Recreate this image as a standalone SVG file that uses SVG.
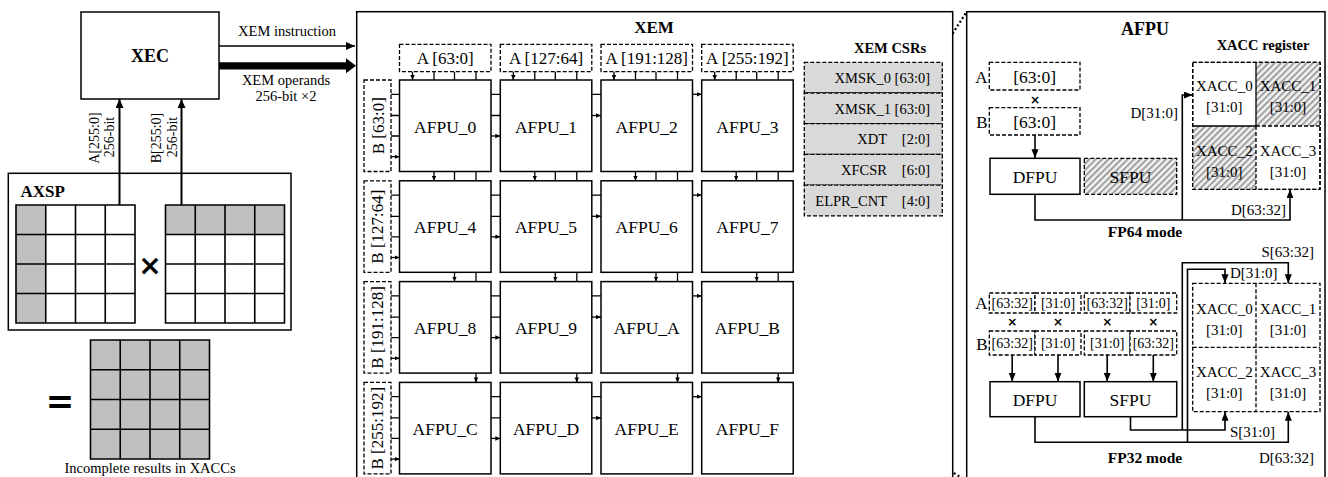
<svg xmlns="http://www.w3.org/2000/svg" width="1328" height="477" viewBox="0 0 1328 477">
<defs>
<style>
.t{font-family:"Liberation Serif","Times New Roman",serif;fill:#000}
.bd{font-weight:bold}
.m{text-anchor:middle}
.e{text-anchor:end}
.bx{fill:#fff;stroke:#000;stroke-width:1.5}
.ds{fill:#fff;stroke:#000;stroke-width:1.3;stroke-dasharray:4 2}
.dn{fill:none;stroke:#000;stroke-width:1.3;stroke-dasharray:4 2}
.ln{fill:none;stroke:#000;stroke-width:1.3}
.w{fill:none;stroke:#000;stroke-width:1.6}
.cell{fill:none;stroke:#000;stroke-width:1.6}
.gr{fill:#c0c0c0}
.csr{fill:#d9d9d9;stroke:#000;stroke-width:1.3;stroke-dasharray:4 2}
.dot{fill:none;stroke:#000;stroke-width:2.2;stroke-dasharray:2 2.4}
.hx{fill:url(#hatch);stroke:none}
.x{font-family:"DejaVu Sans",sans-serif;font-weight:bold;text-anchor:middle}
</style>
<pattern id="hatch" width="4.5" height="4.5" patternUnits="userSpaceOnUse" patternTransform="rotate(45)">
<rect width="4.5" height="4.5" fill="#f2f2f2"/>
<line x1="1" y1="0" x2="1" y2="4.5" stroke="#a0a0a0" stroke-width="2"/>
</pattern>
<marker id="as" markerWidth="6" markerHeight="5" refX="5" refY="2.25" orient="auto" markerUnits="userSpaceOnUse"><path d="M0,0 L5,2.25 L0,4.5 Z" fill="#000"/></marker>
<marker id="am" markerWidth="10" markerHeight="8" refX="9" refY="3.5" orient="auto" markerUnits="userSpaceOnUse"><path d="M0,0 L9,3.5 L0,7 Z" fill="#000"/></marker>
<marker id="al" markerWidth="10" markerHeight="9" refX="9" refY="4" orient="auto" markerUnits="userSpaceOnUse"><path d="M0,0 L9,4 L0,8 Z" fill="#000"/></marker>
</defs>
<rect width="1328" height="477" fill="#fff"/>

<!-- dotted zoom lines (behind) -->
<g id="zoom-lines">
<line class="dot" x1="793.2" y1="281.6" x2="966.7" y2="11.7"/>
<line class="dot" x1="793.2" y1="373.1" x2="966.7" y2="481"/>
</g>

<!-- XEC -->
<g id="xec">
<rect class="bx" x="81" y="12" width="138" height="87"/>
<text class="t bd m" x="150" y="62" font-size="18">XEC</text>
</g>

<!-- AXSP -->
<g id="axsp">
<rect class="bx" x="8.3" y="173.3" width="282.7" height="156.7"/>
<text class="t bd" x="20.5" y="196.5" font-size="17">AXSP</text>
<rect class="gr" x="16" y="205" width="29.75" height="118"/>
<path class="cell" d="M16,205H135V323H16Z M45.75,205V323 M75.5,205V323 M105.25,205V323 M16,234.5H135 M16,264H135 M16,293.5H135"/>
<rect class="gr" x="165.5" y="205" width="119" height="29.5"/>
<path class="cell" d="M165.5,205H284.5V323H165.5Z M195.25,205V323 M225,205V323 M254.75,205V323 M165.5,234.5H284.5 M165.5,264H284.5 M165.5,293.5H284.5"/>
<text class="x" x="150" y="275" font-size="28">×</text>
</g>

<g id="result">
<rect class="gr" x="90.5" y="340" width="119" height="119"/>
<path class="cell" d="M90.5,340H209.5V459H90.5Z M120.25,340V459 M150,340V459 M179.75,340V459 M90.5,369.75H209.5 M90.5,399.5H209.5 M90.5,429.25H209.5"/>
<text class="x" x="60" y="413" font-size="34">=</text>
<text class="t m" x="150" y="473" font-size="14.5">Incomplete results in XACCs</text>
</g>

<!-- XEM -->
<g id="xem">
<rect class="bx" x="356.7" y="11.7" width="596" height="480"/>
<text class="t bd m" x="654" y="33" font-size="17">XEM</text>
</g>

<g id="a-inputs">
<rect class="ds" x="399.5" y="44.3" width="91.5" height="27.4"/>
<text class="t m" x="445.2" y="64" font-size="17">A [63:0]</text>
<rect class="ds" x="500.3" y="44.3" width="91.5" height="27.4"/>
<text class="t m" x="546" y="64" font-size="17">A [127:64]</text>
<rect class="ds" x="601" y="44.3" width="91.5" height="27.4"/>
<text class="t m" x="646.7" y="64" font-size="17">A [191:128]</text>
<rect class="ds" x="701.7" y="44.3" width="91.5" height="27.4"/>
<text class="t m" x="747.4" y="64" font-size="17">A [255:192]</text>
</g>

<g id="b-inputs">
<rect class="ds" x="364" y="80" width="27" height="91.5"/>
<text class="t m" x="383.5" y="125.75" font-size="17" transform="rotate(-90 383.5 125.75)">B [63:0]</text>
<rect class="ds" x="364" y="180.8" width="27" height="91.5"/>
<text class="t m" x="383.5" y="226.55" font-size="17" transform="rotate(-90 383.5 226.55)">B [127:64]</text>
<rect class="ds" x="364" y="281.6" width="27" height="91.5"/>
<text class="t m" x="383.5" y="327.35" font-size="17" transform="rotate(-90 383.5 327.35)">B [191:128]</text>
<rect class="ds" x="364" y="382.4" width="27" height="91.5"/>
<text class="t m" x="383.5" y="428.15" font-size="17" transform="rotate(-90 383.5 428.15)">B [255:192]</text>
</g>

<g id="afpu_0"><rect class="bx" x="399.5" y="80" width="91.5" height="91.5"/><text class="t m" x="445.2" y="132.5" font-size="17.5">AFPU_0</text></g>
<g id="afpu_1"><rect class="bx" x="500.3" y="80" width="91.5" height="91.5"/><text class="t m" x="546" y="132.5" font-size="17.5">AFPU_1</text></g>
<g id="afpu_2"><rect class="bx" x="601" y="80" width="91.5" height="91.5"/><text class="t m" x="646.7" y="132.5" font-size="17.5">AFPU_2</text></g>
<g id="afpu_3"><rect class="bx" x="701.7" y="80" width="91.5" height="91.5"/><text class="t m" x="747.4" y="132.5" font-size="17.5">AFPU_3</text></g>
<g id="afpu_4"><rect class="bx" x="399.5" y="180.8" width="91.5" height="91.5"/><text class="t m" x="445.2" y="233.3" font-size="17.5">AFPU_4</text></g>
<g id="afpu_5"><rect class="bx" x="500.3" y="180.8" width="91.5" height="91.5"/><text class="t m" x="546" y="233.3" font-size="17.5">AFPU_5</text></g>
<g id="afpu_6"><rect class="bx" x="601" y="180.8" width="91.5" height="91.5"/><text class="t m" x="646.7" y="233.3" font-size="17.5">AFPU_6</text></g>
<g id="afpu_7"><rect class="bx" x="701.7" y="180.8" width="91.5" height="91.5"/><text class="t m" x="747.4" y="233.3" font-size="17.5">AFPU_7</text></g>
<g id="afpu_8"><rect class="bx" x="399.5" y="281.6" width="91.5" height="91.5"/><text class="t m" x="445.2" y="334.1" font-size="17.5">AFPU_8</text></g>
<g id="afpu_9"><rect class="bx" x="500.3" y="281.6" width="91.5" height="91.5"/><text class="t m" x="546" y="334.1" font-size="17.5">AFPU_9</text></g>
<g id="afpu_a"><rect class="bx" x="601" y="281.6" width="91.5" height="91.5"/><text class="t m" x="646.7" y="334.1" font-size="17.5">AFPU_A</text></g>
<g id="afpu_b"><rect class="bx" x="701.7" y="281.6" width="91.5" height="91.5"/><text class="t m" x="747.4" y="334.1" font-size="17.5">AFPU_B</text></g>
<g id="afpu_c"><rect class="bx" x="399.5" y="382.4" width="91.5" height="91.5"/><text class="t m" x="445.2" y="434.9" font-size="17.5">AFPU_C</text></g>
<g id="afpu_d"><rect class="bx" x="500.3" y="382.4" width="91.5" height="91.5"/><text class="t m" x="546" y="434.9" font-size="17.5">AFPU_D</text></g>
<g id="afpu_e"><rect class="bx" x="601" y="382.4" width="91.5" height="91.5"/><text class="t m" x="646.7" y="434.9" font-size="17.5">AFPU_E</text></g>
<g id="afpu_f"><rect class="bx" x="701.7" y="382.4" width="91.5" height="91.5"/><text class="t m" x="747.4" y="434.9" font-size="17.5">AFPU_F</text></g>

<!-- CSRs -->
<g id="xem-csrs">
<text class="t bd m" x="890" y="53" font-size="14.5">XEM CSRs</text>
<rect class="csr" x="804.3" y="62.3" width="138" height="30.7"/>
<rect class="csr" x="804.3" y="93" width="138" height="30.7"/>
<rect class="csr" x="804.3" y="123.7" width="138" height="30.7"/>
<rect class="csr" x="804.3" y="154.4" width="138" height="30.7"/>
<rect class="csr" x="804.3" y="185.1" width="138" height="30.7"/>
<text class="t e" x="930" y="83" font-size="14.5">XMSK_0 [63:0]</text>
<text class="t e" x="930" y="113.7" font-size="14.5">XMSK_1 [63:0]</text>
<text class="t" font-size="14.5" y="144.4"><tspan class="e" x="887">XDT</tspan><tspan class="e" x="930">[2:0]</tspan></text>
<text class="t" font-size="14.5" y="175.1"><tspan class="e" x="887">XFCSR</tspan><tspan class="e" x="930">[6:0]</tspan></text>
<text class="t" font-size="14.5" y="205.8"><tspan class="e" x="887">ELPR_CNT</tspan><tspan class="e" x="930">[4:0]</tspan></text>
</g>

<!-- AFPU detail panel -->
<g id="afpu-panel">
<rect class="bx" x="966.7" y="11.7" width="358.3" height="480"/>
<text class="t bd m" x="1145" y="35" font-size="18">AFPU</text>
<text class="t bd m" x="1263" y="50" font-size="14.5">XACC register</text>
<text class="t bd m" x="1145" y="237" font-size="15.5">FP64 mode</text>
<text class="t bd m" x="1145" y="463" font-size="15.5">FP32 mode</text>
</g>

<g id="fp64-ab">
<text class="t e" x="987.5" y="83" font-size="17">A</text>
<rect class="ds" x="989.3" y="62.3" width="90.7" height="27.7"/>
<text class="t m" x="1034.7" y="83" font-size="17.5">[63:0]</text>
<text class="x" x="1035" y="104" font-size="12">×</text>
<text class="t e" x="987.5" y="128" font-size="17">B</text>
<rect class="ds" x="989.3" y="107.7" width="90.7" height="27.3"/>
<text class="t m" x="1034.7" y="128" font-size="17.5">[63:0]</text>
</g>
<g id="fp64-dfpu"><rect class="bx" x="990" y="158.3" width="90" height="36"/><text class="t m" x="1035" y="182.5" font-size="17.5">DFPU</text></g>
<g id="fp64-sfpu"><rect class="hx" x="1084.3" y="158.3" width="92.4" height="36"/><rect class="dn" x="1084.3" y="158.3" width="92.4" height="36"/><text class="t m" x="1130.5" y="182.5" font-size="17.5">SFPU</text></g>
<g id="fp64-xacc">
<rect class="ds" x="1192.7" y="62.3" width="127.3" height="127"/>
<rect class="hx" x="1256" y="62.3" width="64" height="63.7"/>
<rect class="hx" x="1192.7" y="126" width="63.3" height="63.3"/>
<path class="dn" d="M1192.7,62.3H1320V189.3H1192.7Z M1256,126V189.3 M1256,126H1320"/>
<path class="ln" d="M1256,62.3V126H1192.7"/>
<text class="t m" x="1224.3" y="91" font-size="15">XACC_0</text><text class="t m" x="1224.3" y="112" font-size="15">[31:0]</text>
<text class="t m" x="1288" y="91" font-size="15">XACC_1</text><text class="t m" x="1288" y="112" font-size="15">[31:0]</text>
<text class="t m" x="1224.3" y="156" font-size="15">XACC_2</text><text class="t m" x="1224.3" y="177" font-size="15">[31:0]</text>
<text class="t m" x="1288" y="156" font-size="15">XACC_3</text><text class="t m" x="1288" y="177" font-size="15">[31:0]</text>
</g>

<g id="fp32-ab">
<text class="t e" x="987.5" y="309" font-size="17">A</text>
<rect class="ds" x="989.3" y="293" width="45.7" height="20"/>
<rect class="ds" x="1035" y="293" width="46" height="20"/>
<rect class="ds" x="1084.3" y="293" width="45.7" height="20"/>
<rect class="ds" x="1130" y="293" width="46.7" height="20"/>
<text class="t m" x="1012.2" y="308" font-size="14">[63:32]</text>
<text class="t m" x="1058" y="308" font-size="14">[31:0]</text>
<text class="t m" x="1107.2" y="308" font-size="14">[63:32]</text>
<text class="t m" x="1153.3" y="308" font-size="14">[31:0]</text>
<text class="x" x="1012.2" y="326" font-size="12">×</text>
<text class="x" x="1058" y="326" font-size="12">×</text>
<text class="x" x="1107.2" y="326" font-size="12">×</text>
<text class="x" x="1153.3" y="326" font-size="12">×</text>
<text class="t e" x="987.5" y="350" font-size="17">B</text>
<rect class="ds" x="989.3" y="331" width="45.7" height="24"/>
<rect class="ds" x="1035" y="331" width="46" height="24"/>
<rect class="ds" x="1084.3" y="331" width="45.7" height="24"/>
<rect class="ds" x="1130" y="331" width="46.7" height="24"/>
<text class="t m" x="1012.2" y="348" font-size="14">[63:32]</text>
<text class="t m" x="1058" y="348" font-size="14">[31:0]</text>
<text class="t m" x="1107.2" y="348" font-size="14">[31:0]</text>
<text class="t m" x="1153.3" y="348" font-size="14">[63:32]</text>
</g>
<g id="fp32-dfpu"><rect class="bx" x="990" y="381.7" width="90" height="35"/><text class="t m" x="1035" y="405.5" font-size="17.5">DFPU</text></g>
<g id="fp32-sfpu"><rect class="bx" x="1084.3" y="381.7" width="92.4" height="35"/><text class="t m" x="1130.5" y="405.5" font-size="17.5">SFPU</text></g>
<g id="fp32-xacc">
<path class="ds" d="M1192.7,283.3H1320V411.7H1192.7Z"/>
<path class="dn" d="M1256,283.3V411.7 M1192.7,347.3H1320"/>
<text class="t m" x="1224.3" y="314" font-size="15">XACC_0</text><text class="t m" x="1224.3" y="335" font-size="15">[31:0]</text>
<text class="t m" x="1288" y="314" font-size="15">XACC_1</text><text class="t m" x="1288" y="335" font-size="15">[31:0]</text>
<text class="t m" x="1224.3" y="377" font-size="15">XACC_2</text><text class="t m" x="1224.3" y="398" font-size="15">[31:0]</text>
<text class="t m" x="1288" y="377" font-size="15">XACC_3</text><text class="t m" x="1288" y="398" font-size="15">[31:0]</text>
</g>

<!-- connectors -->
<g id="connectors">
<line x1="219" y1="46" x2="355" y2="46" stroke="#000" stroke-width="1.5" marker-end="url(#al)"/>
<path d="M219,62.2H346V58.3L356,65.8L346,73.3V69.4H219Z" fill="#000"/>
<line x1="119.5" y1="205" x2="119.5" y2="99" stroke="#000" stroke-width="2" marker-end="url(#al)"/>
<line x1="181.5" y1="205" x2="181.5" y2="99" stroke="#000" stroke-width="2" marker-end="url(#al)"/>
<text class="t m" x="287" y="36" font-size="14.5">XEM instruction</text>
<text class="t m" x="286" y="85" font-size="14.5">XEM operands</text>
<text class="t m" x="286" y="101" font-size="14.5">256-bit ×2</text>
<text class="t m" x="99" y="138" font-size="14" transform="rotate(-90 99 138)">A[255:0]</text>
<text class="t m" x="114" y="137" font-size="14" transform="rotate(-90 114 137)">256-bit</text>
<text class="t m" x="160.5" y="138" font-size="14" transform="rotate(-90 160.5 138)">B[255:0]</text>
<text class="t m" x="177" y="137" font-size="14" transform="rotate(-90 177 137)">256-bit</text>

<!-- grid plain vertical -->
<path class="ln" d="M434,71.7V80 M454.5,71.7V80 M476,71.7V80 M534.8,71.7V80 M555.3,71.7V80 M576.8,71.7V80 M635.5,71.7V80 M656,71.7V80 M677.5,71.7V80 M736.2,71.7V80 M756.7,71.7V80 M778.2,71.7V80
M454.5,171.5V180.8 M476,171.5V180.8 M555.3,171.5V180.8 M576.8,171.5V180.8 M656,171.5V180.8 M677.5,171.5V180.8 M756.7,171.5V180.8 M778.2,171.5V180.8
M476,272.3V281.6 M576.8,272.3V281.6 M677.5,272.3V281.6 M778.2,272.3V281.6"/>
<!-- grid plain horizontal -->
<path class="ln" d="M391,94.3H399.5 M391,115.5H399.5 M391,136H399.5 M391,195.1H399.5 M391,216.3H399.5 M391,236.8H399.5 M391,295.9H399.5 M391,317.1H399.5 M391,337.6H399.5 M391,396.7H399.5 M391,417.9H399.5 M391,438.4H399.5
M491,94.3H500.3 M491,115.5H500.3 M491,195.1H500.3 M491,216.3H500.3 M491,295.9H500.3 M491,317.1H500.3 M491,396.7H500.3 M491,417.9H500.3
M591.8,94.3H601 M591.8,195.1H601 M591.8,295.9H601 M591.8,396.7H601"/>
<!-- grid arrows vertical -->
<g class="ln" marker-end="url(#as)">
<line x1="412.5" y1="71.7" x2="412.5" y2="80"/><line x1="513.3" y1="71.7" x2="513.3" y2="80"/><line x1="614" y1="71.7" x2="614" y2="80"/><line x1="714.7" y1="71.7" x2="714.7" y2="80"/>
<line x1="434" y1="171.5" x2="434" y2="180.8"/><line x1="534.8" y1="171.5" x2="534.8" y2="180.8"/><line x1="635.5" y1="171.5" x2="635.5" y2="180.8"/><line x1="736.2" y1="171.5" x2="736.2" y2="180.8"/>
<line x1="454.5" y1="272.3" x2="454.5" y2="281.6"/><line x1="555.3" y1="272.3" x2="555.3" y2="281.6"/><line x1="656" y1="272.3" x2="656" y2="281.6"/><line x1="756.7" y1="272.3" x2="756.7" y2="281.6"/>
<line x1="476" y1="373.1" x2="476" y2="382.4"/><line x1="576.8" y1="373.1" x2="576.8" y2="382.4"/><line x1="677.5" y1="373.1" x2="677.5" y2="382.4"/><line x1="778.2" y1="373.1" x2="778.2" y2="382.4"/>
<!-- grid arrows horizontal -->
<line x1="391" y1="156.7" x2="399.5" y2="156.7"/><line x1="391" y1="257.5" x2="399.5" y2="257.5"/><line x1="391" y1="358.3" x2="399.5" y2="358.3"/><line x1="391" y1="459.1" x2="399.5" y2="459.1"/>
<line x1="491" y1="136" x2="500.3" y2="136"/><line x1="491" y1="236.8" x2="500.3" y2="236.8"/><line x1="491" y1="337.6" x2="500.3" y2="337.6"/><line x1="491" y1="438.4" x2="500.3" y2="438.4"/>
<line x1="591.8" y1="115.5" x2="601" y2="115.5"/><line x1="591.8" y1="216.3" x2="601" y2="216.3"/><line x1="591.8" y1="317.1" x2="601" y2="317.1"/><line x1="591.8" y1="417.9" x2="601" y2="417.9"/>
<line x1="692.5" y1="94.3" x2="701.7" y2="94.3"/><line x1="692.5" y1="195.1" x2="701.7" y2="195.1"/><line x1="692.5" y1="295.9" x2="701.7" y2="295.9"/><line x1="692.5" y1="396.7" x2="701.7" y2="396.7"/>
</g>

<!-- FP64 wires -->
<g class="w" marker-end="url(#am)">
<line x1="1035" y1="135" x2="1035" y2="158.3"/>
<path d="M1035,194.3V220H1290V189.3"/>
<path d="M1182.3,220V95H1192.7"/>
</g>
<text class="t e" x="1178" y="118" font-size="15">D[31:0]</text>
<text class="t e" x="1286" y="215" font-size="15">D[63:32]</text>

<!-- FP32 wires -->
<g class="w" marker-end="url(#am)">
<line x1="1012.2" y1="355" x2="1012.2" y2="381.7"/>
<line x1="1058" y1="355" x2="1058" y2="381.7"/>
<line x1="1107.2" y1="355" x2="1107.2" y2="381.7"/>
<line x1="1153.3" y1="355" x2="1153.3" y2="381.7"/>
<path d="M1130.5,416.7V430H1225V411.7"/>
<path d="M1182.3,430V262.7H1288.3V283.3"/>
<path d="M1035,416.7V442.3H1288.3V411.7"/>
<path d="M1187.5,442.3V269.3H1225V283.3"/>
</g>
<text class="t e" x="1314" y="257" font-size="15">S[63:32]</text>
<text class="t" x="1230" y="278" font-size="15">D[31:0]</text>
<text class="t" x="1230" y="437" font-size="15">S[31:0]</text>
<text class="t e" x="1314" y="463" font-size="15">D[63:32]</text>
</g>
</svg>
